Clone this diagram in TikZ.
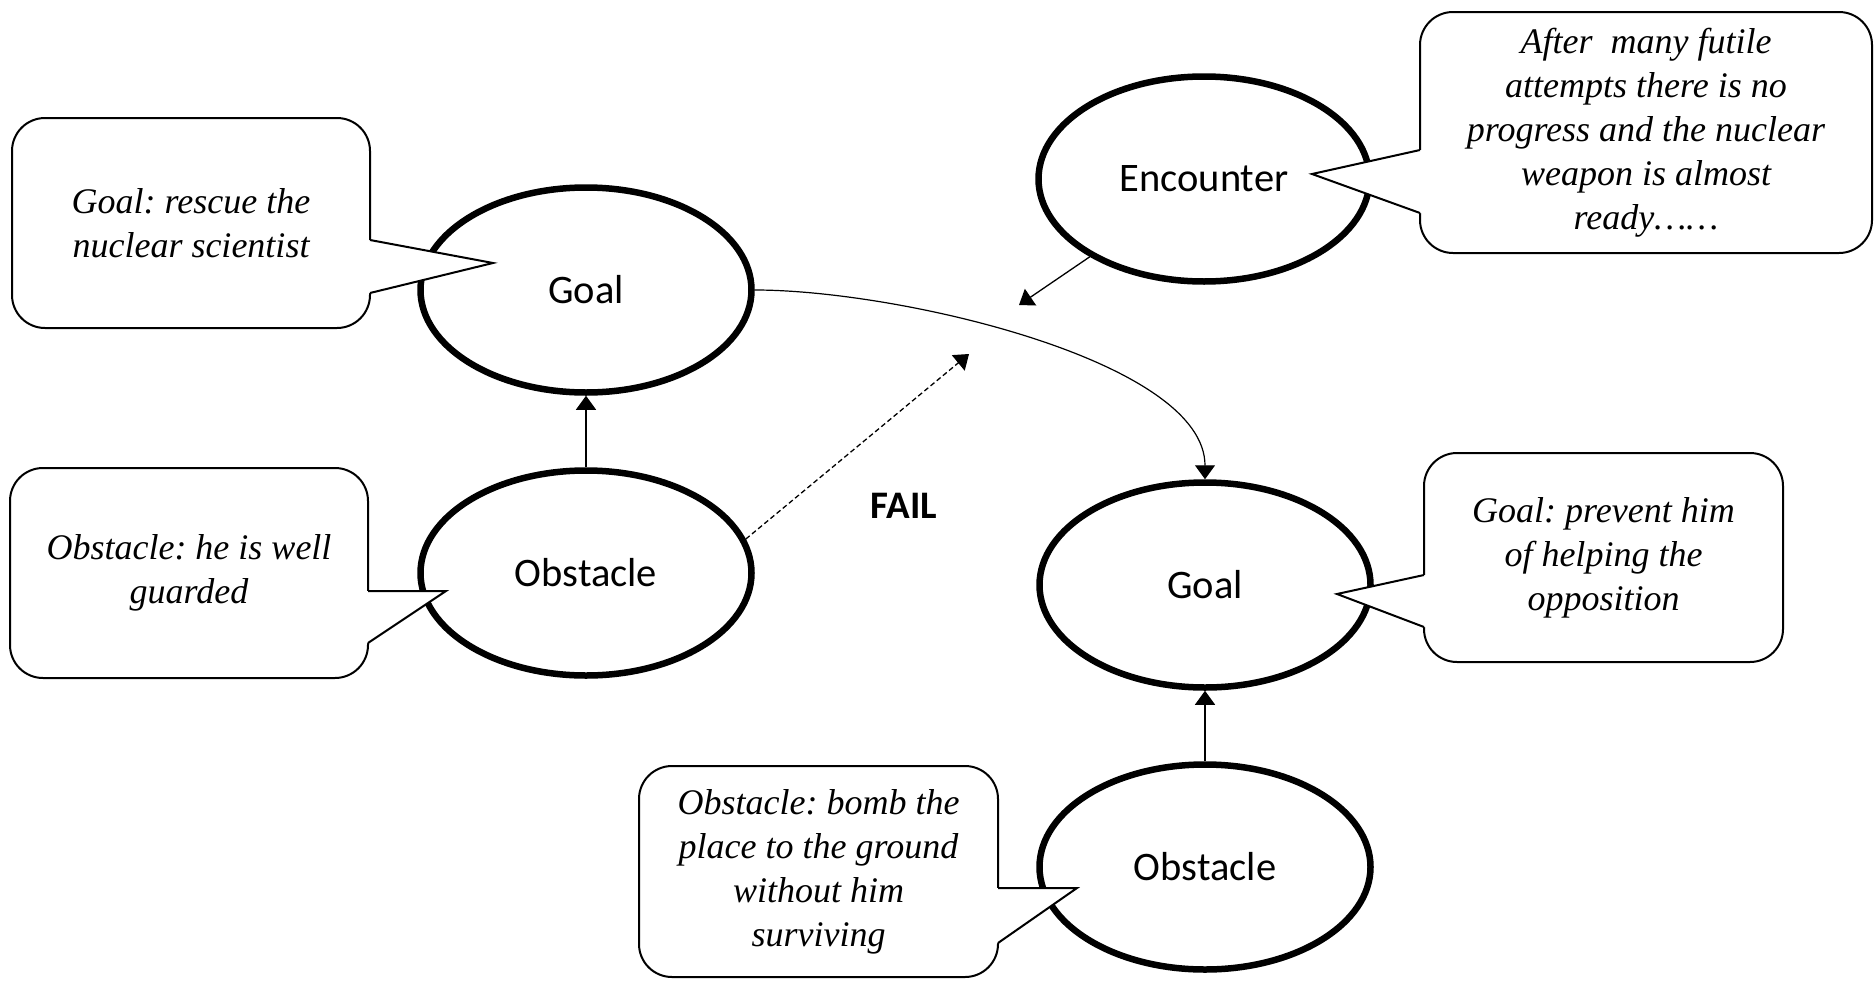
\documentclass[tikz,border=0pt]{standalone}
\usepackage{fontspec}
\newfontfamily\labelfont{Carlito}
\newfontfamily\notefont{Liberation Serif}
\usetikzlibrary{shapes.geometric,arrows.meta}
\frenchspacing
\begin{document}
\begin{tikzpicture}[x=1pt,y=-1pt,
  storyell/.style={ellipse, draw, line width=6.5pt, minimum width=331pt,
    minimum height=205pt, inner sep=0pt,
    font=\labelfont\fontsize{40.5}{48}\selectfont},
  callbox/.style={draw, line width=2pt, rounded corners=33pt, fill=white,
    inner sep=0pt, align=center,
    font=\notefont\itshape\fontsize{36}{44}\selectfont},
  link/.style={line width=1.3pt, -{Triangle[width=20pt,length=14pt]}},
  tipline/.style={line width=2pt, line join=miter}
]
% canvas
\fill[white] (0,0) rectangle (1876,985);
\useasboundingbox (0,0) rectangle (1876,985);

% story nodes
\node[storyell] (g1)  at (586,290)  {Goal};
\node[storyell] (o1)  at (586,573)  {Obstacle};
\node[storyell] (enc) at (1204,179) {Encounter};
\node[storyell] (g2)  at (1205,585) {Goal};
\node[storyell] (o2)  at (1205,867) {Obstacle};

\node[font=\labelfont\bfseries\fontsize{39}{46}\selectfont] (fail) at (904,506) {FAIL};

% connectors
\coordinate (failtip) at (969,354);
\coordinate (enctip)  at (1019,305);
\draw[link] (o1.north) -- (g1.south);
\draw[link] (o2.north) -- (g2.south);
\draw[link] (enc) -- (enctip);
\draw[link, dash pattern=on 5pt off 3pt] (o1.12) -- (failtip);
\draw[link, line width=1.2pt] (g1.east) .. controls +(145,0) and +(0,-118) .. (g2.north);

% callouts
\node[callbox, minimum width=358pt, minimum height=210pt] (c1) at (191,223)
  {Goal: rescue the\\nuclear scientist};
\fill[white] (366,240) -- (370,240) -- (493,263) -- (370,293) -- (366,293) -- cycle;
\draw[tipline] (370,240) -- (493,263) -- (370,293);

\node[callbox, minimum width=358pt, minimum height=210pt] (c2) at (189,573)
  {Obstacle: he is well\\guarded};
\fill[white] (364,591) -- (368,591) -- (446,591) -- (368,643) -- (364,643) -- cycle;
\draw[tipline] (368,591) -- (446,591) -- (368,643);

\node[callbox, minimum width=452pt, minimum height=241pt] (c3) at (1646,132.5)
  {After\ \ many futile\\attempts there is no\\progress and the nuclear\\weapon is almost\\ready\textellipsis\textellipsis};
\fill[white] (1424,150) -- (1420,150) -- (1312,174) -- (1420,213) -- (1424,213) -- cycle;
\draw[tipline] (1420,150) -- (1312,174) -- (1420,213);

\node[callbox, minimum width=359pt, minimum height=209pt] (c4) at (1603.5,557.5)
  {Goal: prevent him\\of helping the\\opposition};
\fill[white] (1428,575) -- (1424,575) -- (1337,594) -- (1424,627) -- (1428,627) -- cycle;
\draw[tipline] (1424,575) -- (1337,594) -- (1424,627);

\node[callbox, minimum width=359pt, minimum height=211pt] (c5) at (818.5,871.5)
  {Obstacle: bomb the\\place to the ground\\without him\\surviving};
\fill[white] (994,888) -- (998,888) -- (1077,888) -- (998,943) -- (994,943) -- cycle;
\draw[tipline] (998,888) -- (1077,888) -- (998,943);
\end{tikzpicture}
\end{document}
